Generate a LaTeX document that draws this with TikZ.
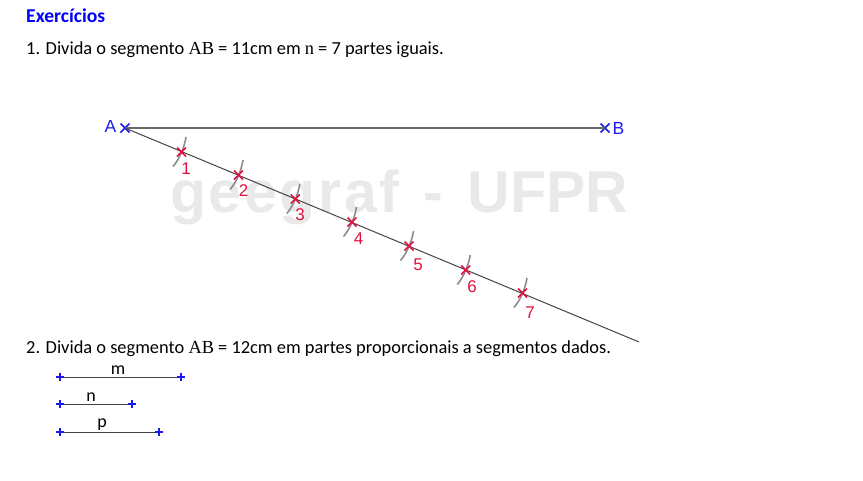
\documentclass[tikz,border=0pt]{standalone}
\usepackage{fontspec}
\setmainfont{Carlito}
\newfontfamily\arialfont{Liberation Sans}
\newfontfamily\serfont{Liberation Serif}
\usetikzlibrary{shapes.misc}
\definecolor{titleblue}{HTML}{0000FF}
\definecolor{markblue}{HTML}{1A1AF0}
\definecolor{markred}{HTML}{E0103F}
\definecolor{arcgray}{HTML}{8C8C8C}
\definecolor{linegray}{HTML}{444444}
\definecolor{watergray}{HTML}{E9E9E9}
\newcommand{\AB}{{\serfont AB}}
\tikzset{
  bodytext/.style={anchor=base west,inner sep=0pt,font=\fontsize{18.4}{22}\selectfont},
  crossmark/.style={cross out,draw,line width=1.5pt,minimum size=7.5pt,inner sep=0pt},
  plusmark/.style={cross out,draw=markblue,line width=1.2pt,minimum size=4.6pt,inner sep=0pt,rotate=45},
  seglabel/.style={inner sep=0pt,font=\fontsize{18}{20}\selectfont},
  numlabel/.style={inner sep=0pt,text=markred,font=\arialfont\fontsize{17}{18}\selectfont},
  pointlabel/.style={inner sep=0pt,text=markblue,font=\arialfont\fontsize{17.5}{18}\selectfont},
  seg/.style={linegray,line width=1pt},
}
\begin{document}
\begin{tikzpicture}[x=1pt,y=-1pt]
  \useasboundingbox (0,0) rectangle (863,480);
  % watermark
  \node[anchor=base west,inner sep=0pt,text=watergray,font=\arialfont\bfseries\fontsize{59}{60}\selectfont] (water) at (170,212) {{\addfontfeature{LetterSpace=4.5}geegraf}\hspace{24pt}-\hspace{25pt}UFPR};
  % texts
  \node[bodytext,text=titleblue,font=\fontsize{19.6}{22}\selectfont\bfseries] (title) at (26,22) {Exercícios};
  \node[bodytext] (ex1) at (26,54.5) {1. Divida o segmento \AB{} = 11cm em {\serfont n} = 7 partes iguais.};
  \node[bodytext] (ex2) at (26,353) {2. Divida o segmento \AB{} = 12cm em partes proporcionais a segmentos dados.};
  % segment AB and the auxiliary line
  \node[crossmark,markblue] (A) at (125,128) {};
  \node[crossmark,markblue] (B) at (605,128) {};
  \coordinate (end) at (639,342);
  \draw[seg,line width=1.3pt,linegray!80] (A.center) -- (B.center);
  \draw[seg] (A.center) -- (end);
  \node[pointlabel] (labA) at (110.5,126) {A};
  \node[pointlabel] (labB) at (618.5,128) {B};
  % compass arcs and divisions
  \foreach \n/\x/\y/\lx/\ly in {1/181.5/152/186/169,2/238.5/175/243.5/191,3/295.3/199/300/215,4/352/222/358.5/239,5/409/246/418/265,6/465.7/270/472/287,7/522.5/293/530/313}{
    \draw[arcgray,line width=1.6pt] (\x-8.5,\y+14.5) .. controls (\x-2,\y+7) and (\x+3,\y-5) .. (\x+4.5,\y-15);
    \node[crossmark,markred] (t\n) at (\x,\y) {};
    \node[numlabel] (n\n) at (\lx,\ly) {\n};
  }
  % given segments
  \foreach \name/\y/\xe/\lx/\ly in {m/377/181/118/370,n/404/132/91/397,p/432/159/102/425}{
    \draw[seg] (60,\y) coordinate (\name s) -- (\xe,\y) coordinate (\name e);
    \node[plusmark] (\name a) at (\name s) {};
    \node[plusmark] (\name b) at (\name e) {};
    \node[seglabel] (lab\name) at (\lx,\ly) {\name};
  }
\end{tikzpicture}
\end{document}
